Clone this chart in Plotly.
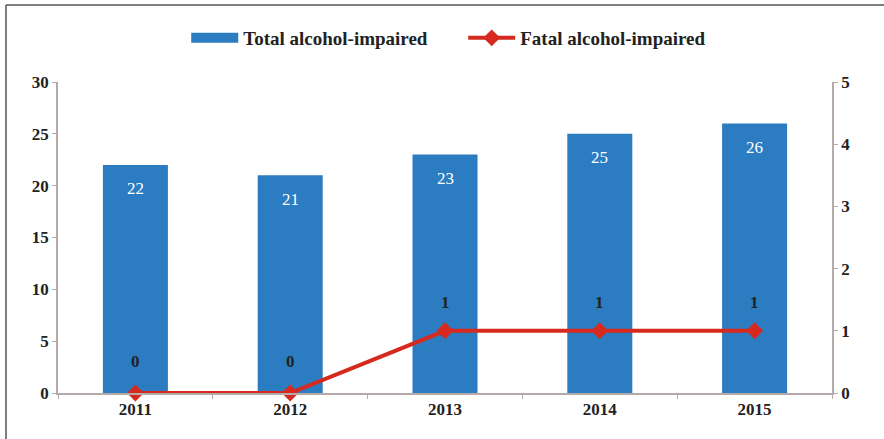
import plotly.graph_objects as go

years = ["2011", "2012", "2013", "2014", "2015"]
total_impaired = [22, 21, 23, 25, 26]
fatal_impaired = [0, 0, 1, 1, 1]

left_ticks = [0, 5, 10, 15, 20, 25, 30]
right_ticks = [0, 1, 2, 3, 4, 5]

BAR_COLOR = "#2c7cc1"
LINE_COLOR = "#d62a1e"
AXIS_COLOR = "#b4aaaa"
TEXT_COLOR = "#222222"
FONT = "Liberation Serif"

fig = go.Figure()

fig.add_trace(go.Bar(
    x=years, y=total_impaired, name="Total alcohol-impaired",
    marker=dict(color=BAR_COLOR, line=dict(width=0)),
    width=0.42, yaxis="y", showlegend=False,
))
# legend key for the bars drawn as a wide block
fig.add_trace(go.Scatter(
    x=[None], y=[None], mode="lines", name="<b>Total alcohol-impaired</b>",
    line=dict(color=BAR_COLOR, width=10), yaxis="y",
))

fig.add_trace(go.Scatter(
    x=years, y=fatal_impaired, name="<b>Fatal alcohol-impaired</b>",
    mode="lines+markers", yaxis="y2",
    line=dict(color=LINE_COLOR, width=4),
    marker=dict(symbol="diamond", size=13, color=LINE_COLOR),
    cliponaxis=False,
))

# value labels: white inside the bar tops, dark above the line points
for i, v in enumerate(total_impaired):
    fig.add_annotation(x=i, y=v, xref="x", yref="y", text=str(v),
                       showarrow=False, yshift=-24,
                       font=dict(family=FONT, size=17, color="white"))
for i, v in enumerate(fatal_impaired):
    fig.add_annotation(x=i, y=v, xref="x", yref="y2", text=f"<b>{v}</b>",
                       showarrow=False, yshift=32 if v == 0 else 28,
                       font=dict(family=FONT, size=17, color=TEXT_COLOR))

# frame around the chart
fig.add_shape(type="line", xref="paper", yref="paper",
              x0=-0.0672, x1=-0.0672, y0=-0.3, y1=1.2476,
              line=dict(color="#555555", width=1.5))
fig.add_shape(type="line", xref="paper", yref="paper",
              x0=-0.0672, x1=1.2, y0=1.2476, y1=1.2476,
              line=dict(color="#555555", width=1.5))

tick_font = dict(family=FONT, size=17, color=TEXT_COLOR)

fig.update_layout(
    width=884, height=439,
    margin=dict(l=58, r=52, t=82, b=46),
    paper_bgcolor="white", plot_bgcolor="white",
    showlegend=True,
    legend=dict(orientation="h", x=0.524, xanchor="center", xref="container",
                y=1 - 38 / 439, yanchor="middle", yref="container",
                font=dict(family=FONT, size=19, color=TEXT_COLOR),
                itemwidth=47, entrywidth=215, entrywidthmode="pixels",
                tracegroupgap=0, bgcolor="rgba(0,0,0,0)"),
    xaxis=dict(
        type="category", range=[-0.5, 4.5],
        showline=True, linecolor=AXIS_COLOR, linewidth=1.5,
        ticks="outside", tickson="boundaries", ticklen=4, tickcolor=AXIS_COLOR,
        tickfont=tick_font, tickprefix="<b>", ticksuffix="</b>",
        showgrid=False, zeroline=False,
    ),
    yaxis=dict(
        range=[0, 30], tickvals=left_ticks,
        ticktext=[f"<b>{t}</b>" for t in left_ticks],
        showline=True, linecolor=AXIS_COLOR, linewidth=1.5,
        ticks="outside", ticklen=4, tickcolor=AXIS_COLOR,
        tickfont=tick_font, showgrid=False, zeroline=False,
    ),
    yaxis2=dict(
        range=[0, 5], tickvals=right_ticks,
        ticktext=[f"<b>{t}</b>" for t in right_ticks],
        overlaying="y", side="right",
        showline=True, linecolor=AXIS_COLOR, linewidth=1.5,
        ticks="outside", ticklen=4, tickcolor=AXIS_COLOR,
        tickfont=tick_font, showgrid=False, zeroline=False,
    ),
)

fig.write_html("out.html")
